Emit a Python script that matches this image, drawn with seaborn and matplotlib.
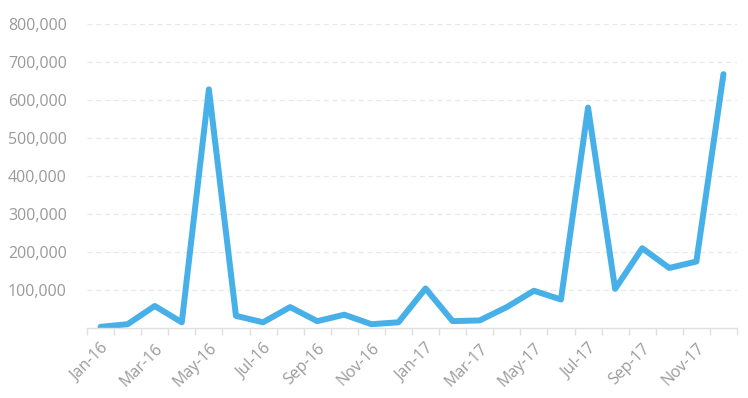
import seaborn as sns
import pandas as pd
import matplotlib.pyplot as plt
from matplotlib.ticker import FuncFormatter, FixedLocator

months = ["Jan-16", "Feb-16", "Mar-16", "Apr-16", "May-16", "Jun-16",
          "Jul-16", "Aug-16", "Sep-16", "Oct-16", "Nov-16", "Dec-16",
          "Jan-17", "Feb-17", "Mar-17", "Apr-17", "May-17", "Jun-17",
          "Jul-17", "Aug-17", "Sep-17", "Oct-17", "Nov-17", "Dec-17"]
values = [3000, 10000, 58000, 15000, 628000, 32000,
          15000, 55000, 18000, 35000, 10000, 15000,
          104000, 18000, 20000, 55000, 98000, 75000,
          580000, 103000, 210000, 158000, 175000, 668000]

df = pd.DataFrame({"idx": range(len(months)), "month": months, "value": values})

sns.set_style("white")
plt.rcParams['font.family'] = ['Open Sans', 'DejaVu Sans']

fig = plt.figure(figsize=(7.48, 3.98), dpi=100)
ax = fig.add_axes([87 / 748, 1 - 328 / 398, 650 / 748, 304 / 398])

sns.lineplot(data=df, x="idx", y="value", ax=ax, color="#48b0e8",
             linewidth=4.3, solid_joinstyle="round", solid_capstyle="round")

ax.set_xlim(-0.5, len(months) - 0.5)
ax.set_ylim(0, 800000)

# y axis: dashed grid, no 0 label
ax.set_yticks(range(100000, 800001, 100000))
ax.yaxis.set_major_formatter(FuncFormatter(lambda v, p: f"{int(v):,}"))
ax.yaxis.grid(True, linestyle=(0, (4, 3)), color="#e8e8e8", linewidth=0.9)
ax.tick_params(axis="y", length=0, pad=14.5, labelsize=11.5, labelcolor="#9a9a9a")

# x axis: labels every other month, tick marks between categories
ax.set_xticks(range(0, len(months), 2))
ax.set_xticklabels(months[::2], rotation=45, ha="right", rotation_mode="anchor")
ax.xaxis.set_minor_locator(FixedLocator([i - 0.5 for i in range(len(months) + 1)]))
ax.tick_params(axis="x", which="major", length=0, pad=9, labelsize=11.5, labelcolor="#9a9a9a")
ax.tick_params(axis="x", which="minor", length=5, width=1, color="#e0e0e0", bottom=True)

for s in ["top", "right", "left"]:
    ax.spines[s].set_visible(False)
ax.spines["bottom"].set_color("#e0e0e0")
ax.spines["bottom"].set_linewidth(1)

ax.set_xlabel("")
ax.set_ylabel("")

fig.savefig("out.png", dpi=100)
